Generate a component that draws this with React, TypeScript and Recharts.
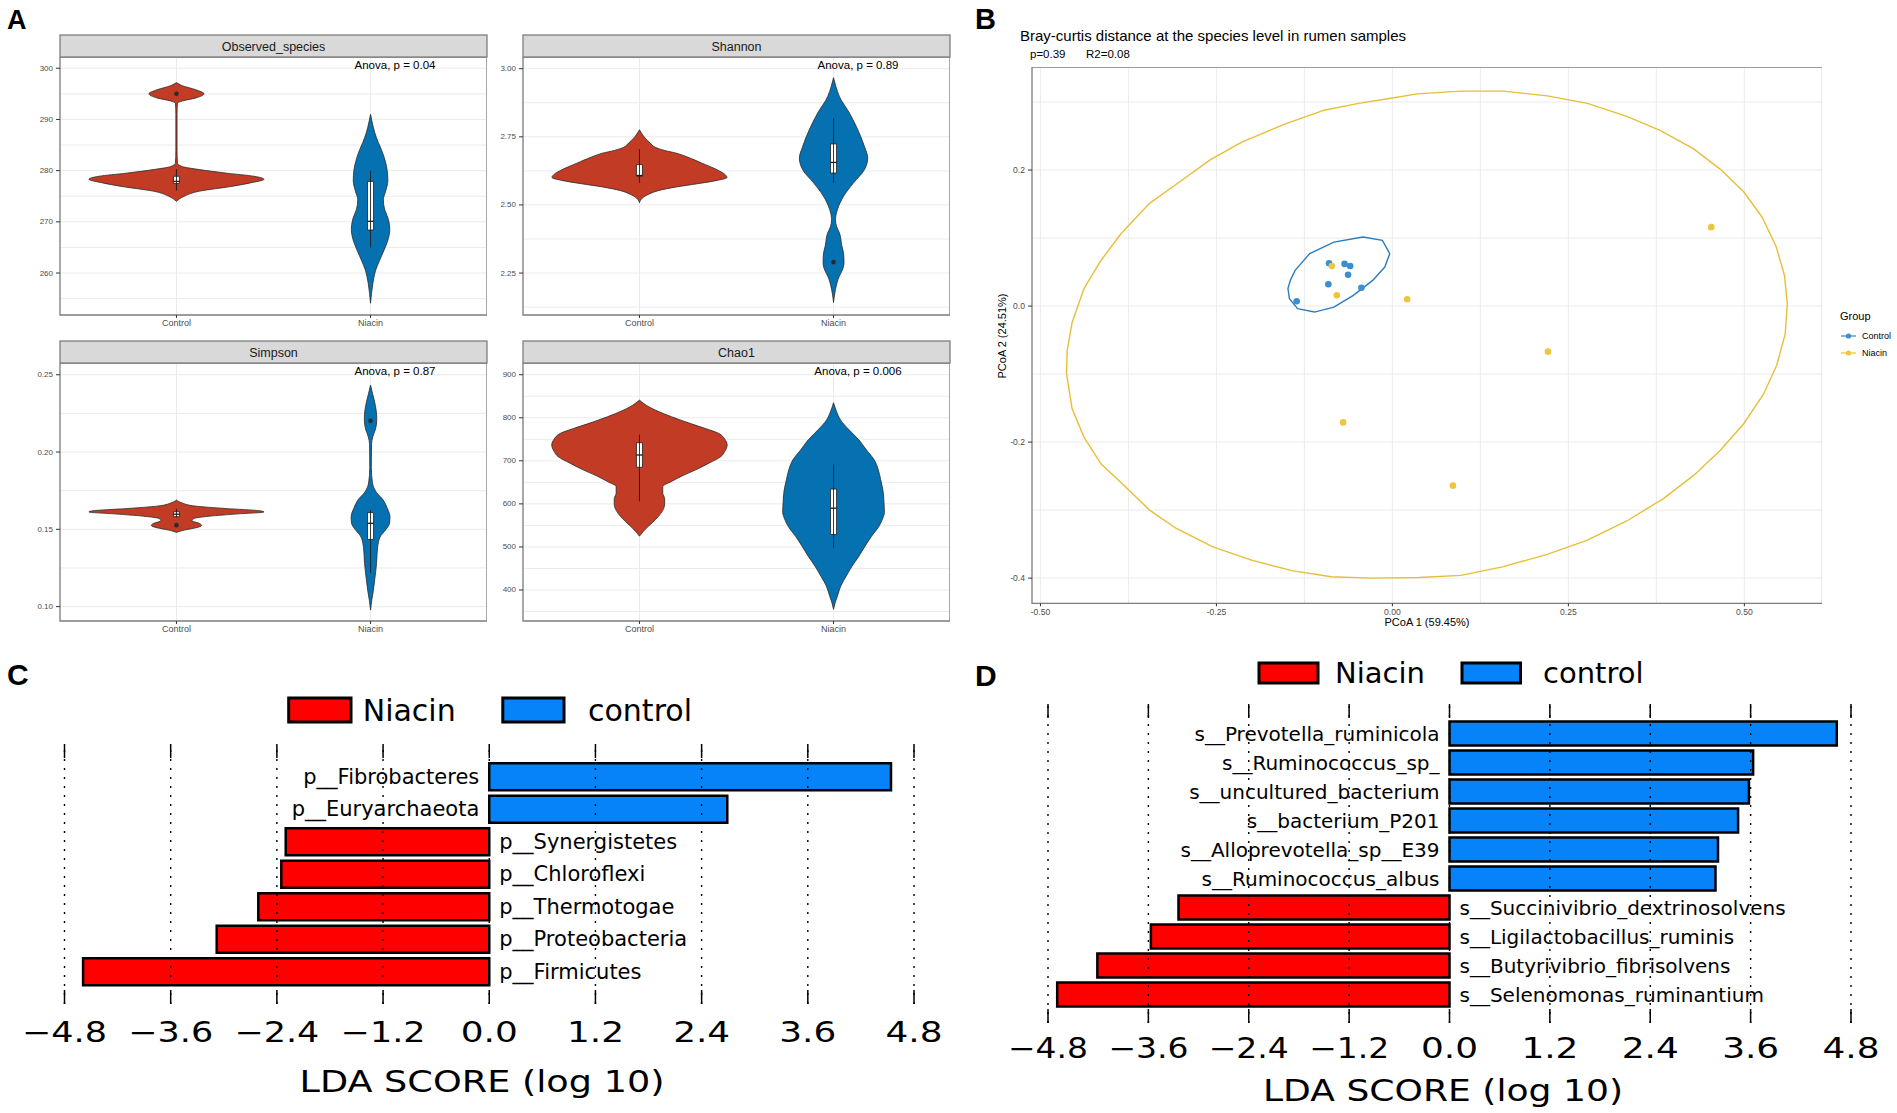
import React from 'react';
import {
  ComposedChart, BarChart, Area, Line, Bar, Cell, Scatter, XAxis, YAxis,
  CartesianGrid, ReferenceLine, ReferenceArea, LabelList,
} from 'recharts';

const FONT = '"Liberation Sans", Arial, Helvetica, sans-serif';
const DJ = '"DejaVu Sans", sans-serif';

type Pt = [number, number];

const groups = ['Control', 'Niacin'];
const CONTROL_FILL = '#C13B25';
const NIACIN_FILL = '#0571B0';

// ---------------- Panel A : violin outlines [value, half width] ----------------
const observedControlOutline: Pt[] = [
  [297.2, 0], [296.6, 0.03], [295.8, 0.1], [295.0, 0.142], [294.2, 0.1], [293.6, 0.03], [293.2, 0.005],
  [291, 0.003], [284, 0.003], [281.5, 0.005], [280.8, 0.03], [280.2, 0.12], [279.5, 0.26], [278.9, 0.4],
  [278.3, 0.451], [277.6, 0.38], [276.9, 0.28], [276.0, 0.12], [275.0, 0.04], [274.0, 0],
];
const observedNiacinOutline: Pt[] = [
  [291.0, 0], [289.5, 0.008], [287.4, 0.022], [285.5, 0.04], [284.1, 0.056], [282, 0.075], [280, 0.086],
  [278, 0.089], [276, 0.078], [274.3, 0.066], [272.5, 0.072], [270.5, 0.092], [268.5, 0.099], [266.5, 0.09],
  [264.5, 0.07], [262.5, 0.047], [260.5, 0.026], [258, 0.012], [256, 0.005], [254.1, 0],
];
const observedControlBox = [276.1, 277.5, 277.9, 278.9, 280.3];
const observedNiacinBox = [265.0, 268.4, 270.1, 277.9, 280.0];
const observedControlOutliers = [295];
const observedNiacinOutliers: number[] = [];
const observedTicks = [260, 270, 280, 290, 300];
const observedMinor = [255, 265, 275, 285, 295];

const shannonControlOutline: Pt[] = [
  [2.776, 0], [2.745, 0.03], [2.727, 0.056], [2.712, 0.08], [2.7, 0.13], [2.69, 0.19], [2.675, 0.25],
  [2.654, 0.32], [2.629, 0.4], [2.612, 0.44], [2.601, 0.451], [2.59, 0.4], [2.578, 0.3], [2.566, 0.19],
  [2.553, 0.1], [2.54, 0.05], [2.525, 0.015], [2.508, 0],
];
const shannonNiacinOutline: Pt[] = [
  [2.967, 0], [2.935, 0.012], [2.898, 0.03], [2.837, 0.082], [2.776, 0.125], [2.715, 0.159], [2.672, 0.176],
  [2.629, 0.159], [2.581, 0.103], [2.532, 0.052], [2.483, 0.02], [2.446, 0.01], [2.42, 0.016], [2.398, 0.03],
  [2.349, 0.043], [2.32, 0.052], [2.288, 0.054], [2.26, 0.045], [2.239, 0.03], [2.19, 0.01], [2.142, 0],
];
const shannonControlBox = [2.581, 2.605, 2.608, 2.648, 2.705];
const shannonNiacinBox = [2.581, 2.617, 2.656, 2.724, 2.818];
const shannonControlOutliers: number[] = [];
const shannonNiacinOutliers = [2.29];
const shannonTicks = [2.25, 2.5, 2.75, 3.0];
const shannonMinor = [2.125, 2.375, 2.625, 2.875];

const simpsonControlOutline: Pt[] = [
  [0.169, 0], [0.167, 0.03], [0.165, 0.1], [0.1635, 0.25], [0.162, 0.43], [0.1612, 0.451], [0.16, 0.32],
  [0.1585, 0.17], [0.157, 0.09], [0.1555, 0.08], [0.154, 0.115], [0.1525, 0.13], [0.151, 0.1],
  [0.1495, 0.04], [0.148, 0],
];
const simpsonNiacinOutline: Pt[] = [
  [0.2433, 0], [0.238, 0.01], [0.233, 0.02], [0.227, 0.029], [0.221, 0.032], [0.215, 0.026], [0.21, 0.012],
  [0.205, 0.005], [0.19, 0.004], [0.18, 0.01], [0.174, 0.03], [0.169, 0.065], [0.164, 0.085], [0.158, 0.1],
  [0.154, 0.098], [0.15, 0.08], [0.145, 0.049], [0.138, 0.036], [0.128, 0.031], [0.118, 0.022],
  [0.11, 0.014], [0.104, 0.006], [0.0978, 0],
];
const simpsonControlBox = [0.1578, 0.1582, 0.1598, 0.1614, 0.1632];
const simpsonNiacinBox = [0.1217, 0.1435, 0.1539, 0.1608, 0.1625];
const simpsonControlOutliers = [0.1527];
const simpsonNiacinOutliers = [0.2202];
const simpsonTicks = [0.1, 0.15, 0.2, 0.25];
const simpsonMinor = [0.125, 0.175, 0.225];

const chaoControlOutline: Pt[] = [
  [841, 0], [825, 0.05], [810, 0.122], [795, 0.21], [787, 0.26], [775, 0.34], [764, 0.407], [750, 0.44],
  [737, 0.452], [722, 0.44], [710, 0.42], [695, 0.36], [679, 0.29], [665, 0.22], [652, 0.165], [640, 0.12],
  [625, 0.12], [612, 0.13], [600, 0.13], [585, 0.12], [571, 0.098], [558, 0.07], [548, 0.046], [535, 0.018],
  [525, 0],
];
const chaoNiacinOutline: Pt[] = [
  [835, 0], [815, 0.015], [795, 0.036], [772, 0.08], [749, 0.13], [725, 0.17], [702, 0.21], [680, 0.23],
  [656, 0.243], [630, 0.255], [602, 0.26], [580, 0.262], [567, 0.254], [545, 0.23], [525, 0.196], [500, 0.16],
  [478, 0.13], [455, 0.095], [432, 0.065], [410, 0.038], [386, 0.02], [370, 0.008], [355, 0],
];
const chaoControlBox = [606, 685, 713.5, 742, 761];
const chaoNiacinBox = [498, 529, 590, 634.5, 692];
const chaoControlOutliers: number[] = [];
const chaoNiacinOutliers: number[] = [];
const chaoTicks = [400, 500, 600, 700, 800, 900];
const chaoMinor = [350, 450, 550, 650, 750, 850];

// ---------------- Panel B : PCoA ----------------
const controlPoints: Pt[] = [
  [-0.136, 0.007], [-0.091, 0.032], [-0.09, 0.063], [-0.068, 0.062], [-0.06, 0.059], [-0.063, 0.046], [-0.044, 0.027],
];
const niacinPoints: Pt[] = [
  [-0.086, 0.059], [-0.079, 0.016], [0.021, 0.01], [0.221, -0.067], [-0.07, -0.171], [0.086, -0.264], [0.453, 0.116],
];
const niacinEllipse: Pt[] = [
  [0.097, 0.316], [0.158, 0.316], [0.22, 0.309], [0.277, 0.298], [0.333, 0.279], [0.381, 0.258], [0.428, 0.231],
  [0.466, 0.201], [0.499, 0.168], [0.525, 0.131], [0.545, 0.088], [0.557, 0.045], [0.561, 0.003], [0.558, -0.041],
  [0.546, -0.087], [0.527, -0.13], [0.499, -0.173], [0.466, -0.212], [0.428, -0.249], [0.385, -0.283],
  [0.333, -0.316], [0.277, -0.344], [0.22, -0.365], [0.158, -0.383], [0.097, -0.396], [0.038, -0.399],
  [-0.028, -0.4], [-0.087, -0.398], [-0.143, -0.389], [-0.199, -0.374], [-0.255, -0.354], [-0.307, -0.327],
  [-0.345, -0.3], [-0.379, -0.266], [-0.414, -0.232], [-0.438, -0.193], [-0.455, -0.151], [-0.463, -0.099],
  [-0.462, -0.065], [-0.455, -0.024], [-0.438, 0.026], [-0.414, 0.067], [-0.386, 0.106], [-0.345, 0.151],
  [-0.303, 0.182], [-0.259, 0.215], [-0.214, 0.241], [-0.152, 0.268], [-0.097, 0.288], [-0.048, 0.298],
  [0.0, 0.306], [0.035, 0.312], [0.097, 0.316],
];
const controlEllipse: Pt[] = [
  [-0.0418, 0.1015], [-0.0142, 0.0966], [-0.0038, 0.0771], [-0.0108, 0.0574], [-0.028, 0.0378], [-0.0555, 0.0157],
  [-0.0831, -0.0015], [-0.1107, -0.0088], [-0.1347, -0.0038], [-0.1463, 0.0109], [-0.1484, 0.0256], [-0.145, 0.0378],
  [-0.1382, 0.0525], [-0.1175, 0.0771], [-0.0831, 0.0941], [-0.0418, 0.1015],
];
const pcoaTicksX = [-0.5, -0.25, 0, 0.25, 0.5];
const pcoaMinorX = [-0.375, -0.125, 0.125, 0.375];
const pcoaTicksY = [-0.4, -0.2, 0, 0.2];
const pcoaMinorY = [-0.3, -0.1, 0.1, 0.3];
const PCOA_BLUE = '#3B8ED0';
const PCOA_YELLOW = '#EEC63E';

// ---------------- Panels C, D : LEfSe ----------------
const cNames = ['p__Fibrobacteres', 'p__Euryarchaeota', 'p__Synergistetes', 'p__Chloroflexi', 'p__Thermotogae', 'p__Proteobacteria', 'p__Firmicutes'];
const cScores = [4.54, 2.69, -2.3, -2.35, -2.61, -3.08, -4.59];
const dNames = [
  's__Prevotella_ruminicola', 's__Ruminococcus_sp_', 's__uncultured_bacterium', 's__bacterium_P201',
  's__Alloprevotella_sp__E39', 's__Ruminococcus_albus', 's__Succinivibrio_dextrinosolvens',
  's__Ligilactobacillus_ruminis', 's__Butyrivibrio_fibrisolvens', 's__Selenomonas_ruminantium',
];
const dScores = [4.63, 3.63, 3.58, 3.45, 3.21, 3.18, -3.24, -3.57, -4.21, -4.69];
const ldaTicks = [-4.8, -3.6, -2.4, -1.2, 0, 1.2, 2.4, 3.6, 4.8];
const RED = '#FF0000';
const BLUE = '#0683F9';

// ---------------- helpers ----------------
const isMajor = (majors: number[], v: number) => majors.some((m) => Math.abs(m - v) < 1e-9);
const sortNum = (a: number[]) => [...a].sort((x, y) => x - y);

function violinElements(key: string, c: number, outline: Pt[], box: number[], outliers: number[], fill: string) {
  const bw = 0.0155;
  const [lo, q1, med, q3, hi] = box;
  const shape = outline.map(([y, hw]) => ({ y, r: [c - hw, c + hw] }));
  const els: any[] = [
    <Area key={key + 'v'} data={shape} dataKey="r" type="monotone" fill={fill} fillOpacity={1}
      stroke="#2a2a2a" strokeWidth={0.8} dot={false} activeDot={false} isAnimationActive={false} />,
    <Line key={key + 'w'} data={[{ y: hi, v: c }, { y: lo, v: c }]} dataKey="v" type="linear"
      stroke="#1e1e1e" strokeWidth={0.9} dot={false} activeDot={false} isAnimationActive={false} />,
    <Area key={key + 'bf'} data={[{ y: q3, r: [c - bw, c + bw] }, { y: q1, r: [c - bw, c + bw] }]} dataKey="r"
      type="linear" fill="#ffffff" fillOpacity={1} stroke="none" dot={false} activeDot={false} isAnimationActive={false} />,
    <Line key={key + 'bo'} data={[{ y: q3, v: c - bw }, { y: q3, v: c + bw }, { y: q1, v: c + bw }, { y: q1, v: c - bw }, { y: q3, v: c - bw }]}
      dataKey="v" type="linear" stroke="#1e1e1e" strokeWidth={0.8} dot={false} activeDot={false} isAnimationActive={false} />,
    <Line key={key + 'md'} data={[{ y: med, v: c - bw }, { y: med, v: c + bw }]} dataKey="v" type="linear"
      stroke="#1e1e1e" strokeWidth={1.3} dot={false} activeDot={false} isAnimationActive={false} />,
  ];
  outliers.forEach((o, i) =>
    els.push(
      <Line key={key + 'o' + i} data={[{ y: o, v: c }]} dataKey="v" stroke="none"
        dot={{ r: 2.3, fill: '#2b2b2b', stroke: 'none' }} activeDot={false} isAnimationActive={false} />,
    ),
  );
  return els;
}

// left-axis tick: label + tick mark only for major values (minor values only feed the grid)
const makeLeftTick = (majors: number[], fmt: (v: number) => string, fontSize: number) => (p: any) => {
  const v = p.payload.value;
  if (!isMajor(majors, v)) return <g />;
  return (
    <g>
      <line x1={p.x + 3} x2={p.x + 7} y1={p.y} y2={p.y} stroke="#333" strokeWidth={1} />
      <text x={p.x} y={p.y} textAnchor="end" dominantBaseline="central" fontSize={fontSize} fill="#4d4d4d"
        fontFamily={FONT}>{fmt(v)}</text>
    </g>
  );
};
const makeBottomTick = (majors: number[], fmt: (v: number) => string, fontSize: number) => (p: any) => {
  const v = p.payload.value;
  if (!isMajor(majors, v)) return <g />;
  return (
    <g>
      <line x1={p.x} x2={p.x} y1={p.y - 5} y2={p.y - 2} stroke="#333" strokeWidth={1} />
      <text x={p.x} y={p.y} dy="0.75em" textAnchor="middle" fontSize={fontSize} fill="#4d4d4d"
        fontFamily={FONT}>{fmt(v)}</text>
    </g>
  );
};

function ViolinChart(props: {
  left: number; top: number; domain: [number, number]; ticks: number[]; minor: number[];
  fmt: (v: number) => string; series: any[];
}) {
  const { left, top, domain, ticks, minor, fmt, series } = props;
  const W = 427, H = 258, AW = 60, AH = 30;
  return (
    <div style={{ position: 'absolute', left: left - AW, top }}>
      <ComposedChart layout="vertical" width={W + AW} height={H + AH} margin={{ top: 0, right: 0, bottom: 0, left: 0 }}>
        <CartesianGrid stroke="#ebebeb" strokeWidth={1} />
        <XAxis type="number" dataKey="x" domain={[0.4, 2.6]} ticks={[1, 2]} interval={0} allowDataOverflow
          tickFormatter={(v: number) => groups[Math.round(v) - 1]} axisLine={false} tickSize={3} tickMargin={2}
          tickLine={{ stroke: '#333' }} tick={{ fontSize: 9, fill: '#4d4d4d', fontFamily: FONT }} height={AH} />
        <YAxis type="number" dataKey="y" reversed domain={domain} ticks={sortNum([...ticks, ...minor])} interval={0}
          allowDataOverflow axisLine={false} tickSize={4} tickMargin={3} tickLine={false}
          tick={makeLeftTick(ticks, fmt, 8)} width={AW} />
        {series}
        <ReferenceArea x1={0.4} x2={2.6} y1={domain[0]} y2={domain[1]} fill="none" stroke="#7f7f7f"
          strokeWidth={1.3} ifOverflow="visible" />
      </ComposedChart>
    </div>
  );
}

const dotShape = (color: string) => (p: any) => <circle cx={p.cx} cy={p.cy} r={3.3} fill={color} />;

function makeBarLabel(rows: { name: string; v: number }[], fontSize: number) {
  return (p: any) => {
    const vb = p.viewBox || p;
    const x = vb.x, y = vb.y, w = vb.width, h = vb.height;
    const row = rows[p.index] || rows.find((r) => r.name === p.value);
    if (!row || x == null) return null;
    const neg = row.v < 0;
    const zeroX = neg ? Math.max(x, x + w) : Math.min(x, x + w);
    return (
      <text x={neg ? zeroX + 10 : zeroX - 10} y={y + h / 2} textAnchor={neg ? 'start' : 'end'}
        dominantBaseline="central" fontSize={fontSize} fontFamily={DJ} fill="#000">{row.name}</text>
    );
  };
}

const fmtLda = (v: number) => v.toFixed(1).replace('-', '\u2212');

function LdaChart(props: {
  left: number; top: number; width: number; mLeft: number; mRight: number; mTop: number; plotH: number;
  names: string[]; scores: number[]; band: number; barSize: number; labelSize: number;
  negLen: number; posLen: number; dy: number;
}) {
  const { left, top, width, mLeft, mRight, mTop, plotH, names, scores, band, barSize, labelSize, negLen, posLen, dy } = props;
  const rows = names.map((n, i) => ({ name: n, v: scores[i] }));
  const TopTick = (p: any) => (
    <line x1={p.x} x2={p.x} y1={p.y} y2={p.y + 14} stroke="#000" strokeWidth={1.5} />
  );
  const BottomTick = (p: any) => {
    const v = p.payload.value;
    return (
      <g>
        <line x1={p.x} x2={p.x} y1={p.y - 14} y2={p.y} stroke="#000" strokeWidth={1.5} />
        <text x={p.x} y={p.y + dy} textAnchor="middle" dominantBaseline="central" fontSize={27.5} fontFamily={DJ}
          fill="#000" textLength={v < 0 ? negLen : posLen} lengthAdjust="spacingAndGlyphs">{fmtLda(v)}</text>
      </g>
    );
  };
  return (
    <div style={{ position: 'absolute', left, top }}>
      <BarChart layout="vertical" data={rows} width={width} height={mTop + 1 + plotH + 55}
        margin={{ top: mTop, right: mRight, bottom: 0, left: mLeft }}>
        <XAxis xAxisId="top" orientation="top" type="number" domain={[-4.8, 4.8]} ticks={ldaTicks} interval={0}
          allowDataOverflow height={1} axisLine={false} tickLine={false} tickSize={0} tickMargin={0} tick={TopTick} />
        <XAxis type="number" domain={[-4.8, 4.8]} ticks={ldaTicks} interval={0} allowDataOverflow height={55}
          axisLine={false} tickLine={false} tickSize={0} tickMargin={0} tick={BottomTick} />
        <YAxis type="category" dataKey="name" hide padding={{ top: band / 2, bottom: band / 2 }} />
        {ldaTicks.map((t) => (
          <ReferenceLine key={'g' + t} x={t} stroke="#000" strokeWidth={1.4} strokeDasharray="2 7" />
        ))}
        <Bar dataKey="v" barSize={barSize} stroke="#000" strokeWidth={2.5} isAnimationActive={false}>
          {rows.map((r, i) => <Cell key={'c' + i} fill={r.v < 0 ? RED : BLUE} />)}
          <LabelList dataKey="name" content={makeBarLabel(rows, labelSize)} />
        </Bar>
      </BarChart>
    </div>
  );
}

const int0 = (v: number) => String(Math.round(v));
const fix2 = (v: number) => v.toFixed(2);
const fix1 = (v: number) => v.toFixed(1);

export default function App() {
  const strip = (x: number, y: number, title: string) => (
    <g key={title}>
      <rect x={x} y={y} width={427} height={22} fill="#d9d9d9" stroke="#7f7f7f" strokeWidth={1.3} />
      <text x={x + 213.5} y={y + 11.5} textAnchor="middle" dominantBaseline="central" fontSize={12.5} fill="#1a1a1a"
        fontFamily={FONT}>{title}</text>
    </g>
  );
  const anova = (x: number, y: number, t: string) => (
    <text key={t + x + y} x={x} y={y} textAnchor="middle" dominantBaseline="central" fontSize={11.5} fill="#000"
      fontFamily={FONT}>{t}</text>
  );

  return (
    <div style={{ position: 'absolute', left: 0, top: 0, width: 1897, height: 1113, background: '#fff', fontFamily: FONT, overflow: 'hidden' }}>
      {/* Panel A */}
      <ViolinChart left={60} top={57} domain={[251.8, 302.2]} ticks={observedTicks} minor={observedMinor} fmt={int0}
        series={[
          ...violinElements('oc', 1, observedControlOutline, observedControlBox, observedControlOutliers, CONTROL_FILL),
          ...violinElements('on', 2, observedNiacinOutline, observedNiacinBox, observedNiacinOutliers, NIACIN_FILL),
        ]} />
      <ViolinChart left={523} top={57} domain={[2.096, 3.043]} ticks={shannonTicks} minor={shannonMinor} fmt={fix2}
        series={[
          ...violinElements('sc', 1, shannonControlOutline, shannonControlBox, shannonControlOutliers, CONTROL_FILL),
          ...violinElements('sn', 2, shannonNiacinOutline, shannonNiacinBox, shannonNiacinOutliers, NIACIN_FILL),
        ]} />
      <ViolinChart left={60} top={363} domain={[0.0907, 0.2576]} ticks={simpsonTicks} minor={simpsonMinor} fmt={fix2}
        series={[
          ...violinElements('pc', 1, simpsonControlOutline, simpsonControlBox, simpsonControlOutliers, CONTROL_FILL),
          ...violinElements('pn', 2, simpsonNiacinOutline, simpsonNiacinBox, simpsonNiacinOutliers, NIACIN_FILL),
        ]} />
      <ViolinChart left={523} top={363} domain={[328, 927.2]} ticks={chaoTicks} minor={chaoMinor} fmt={int0}
        series={[
          ...violinElements('cc', 1, chaoControlOutline, chaoControlBox, chaoControlOutliers, CONTROL_FILL),
          ...violinElements('cn', 2, chaoNiacinOutline, chaoNiacinBox, chaoNiacinOutliers, NIACIN_FILL),
        ]} />

      {/* Panel B */}
      <div style={{ position: 'absolute', left: 1031.5 - 40, top: 66.7 }}>
        <ComposedChart width={790.5 + 40} height={536.3 + 30} margin={{ top: 0, right: 0, bottom: 0, left: 0 }}>
          <CartesianGrid stroke="#ebebeb" strokeWidth={1} />
          <XAxis type="number" dataKey="x" domain={[-0.512, 0.611]} ticks={sortNum([...pcoaTicksX, ...pcoaMinorX])}
            interval={0} allowDataOverflow axisLine={false} tickSize={3} tickMargin={2} tickLine={false}
            tick={makeBottomTick(pcoaTicksX, fix2, 8.6)} height={30} />
          <YAxis type="number" dataKey="y" domain={[-0.437, 0.3515]} ticks={sortNum([...pcoaTicksY, ...pcoaMinorY])}
            interval={0} allowDataOverflow axisLine={false} tickSize={4} tickMargin={3} tickLine={false}
            tick={makeLeftTick(pcoaTicksY, fix1, 8.6)} width={40} />
          <Line data={niacinEllipse.map(([x, y]) => ({ x, y }))} dataKey="y" type="linear" stroke="#E6BF38"
            strokeWidth={1.4} dot={false} activeDot={false} isAnimationActive={false} />
          <Line data={controlEllipse.map(([x, y]) => ({ x, y }))} dataKey="y" type="linear" stroke="#2C7DBE"
            strokeWidth={1.4} dot={false} activeDot={false} isAnimationActive={false} />
          <Scatter data={controlPoints.map(([x, y]) => ({ x, y }))} shape={dotShape(PCOA_BLUE)} isAnimationActive={false} />
          <Scatter data={niacinPoints.map(([x, y]) => ({ x, y }))} shape={dotShape(PCOA_YELLOW)} isAnimationActive={false} />
          <ReferenceArea x1={-0.512} x2={0.611} y1={-0.437} y2={0.3515} fill="none" stroke="#7f7f7f" strokeWidth={1.3}
            ifOverflow="visible" />
        </ComposedChart>
      </div>

      {/* Panel C */}
      <LdaChart left={0} top={690} width={960} mLeft={64.5} mRight={46} mTop={53} plotH={260} names={cNames}
        scores={cScores} band={32.5} barSize={27} labelSize={21} negLen={85} posLen={57} dy={27.7} />
      {/* Panel D */}
      <LdaChart left={960} top={660} width={937} mLeft={88} mRight={46} mTop={43} plotH={319} names={dNames}
        scores={dScores} band={29} barSize={24} labelSize={20} negLen={80} posLen={57} dy={25} />

      {/* overlay texts */}
      <svg width={1897} height={1113} style={{ position: 'absolute', left: 0, top: 0, pointerEvents: 'none' }}>
        <text x={7} y={29} fontSize={27} fontWeight="bold" fontFamily={FONT}>A</text>
        <text x={975} y={29} fontSize={29} fontWeight="bold" fontFamily={FONT}>B</text>
        <text x={7} y={685} fontSize={30} fontWeight="bold" fontFamily={FONT}>C</text>
        <text x={975} y={686} fontSize={30} fontWeight="bold" fontFamily={FONT}>D</text>

        {strip(60, 35, 'Observed_species')}
        {strip(523, 35, 'Shannon')}
        {strip(60, 341, 'Simpson')}
        {strip(523, 341, 'Chao1')}
        {anova(395, 65, 'Anova, p = 0.04')}
        {anova(858, 65, 'Anova, p = 0.89')}
        {anova(395, 371, 'Anova, p = 0.87')}
        {anova(858, 371, 'Anova, p = 0.006')}

        <text x={1020} y={35} dominantBaseline="central" fontSize={15} fontFamily={FONT} fill="#000">
          Bray-curtis distance at the species level in rumen samples
        </text>
        <text x={1030} y={54} dominantBaseline="central" fontSize={11.5} fontFamily={FONT} fill="#000">p=0.39</text>
        <text x={1086} y={54} dominantBaseline="central" fontSize={11.5} fontFamily={FONT} fill="#000">R2=0.08</text>
        <text x={1427} y={622} textAnchor="middle" dominantBaseline="central" fontSize={11} fontFamily={FONT} fill="#000">
          PCoA 1 (59.45%)
        </text>
        <text x={1002} y={336} textAnchor="middle" dominantBaseline="central" fontSize={11} fontFamily={FONT} fill="#000"
          transform="rotate(-90 1002 336)">PCoA 2 (24.51%)</text>
        <text x={1840} y={316} dominantBaseline="central" fontSize={11} fontFamily={FONT} fill="#000">Group</text>
        <line x1={1841} x2={1856} y1={336} y2={336} stroke={PCOA_BLUE} strokeWidth={1.3} />
        <circle cx={1848.5} cy={336} r={2.6} fill={PCOA_BLUE} />
        <text x={1862} y={336} dominantBaseline="central" fontSize={9} fontFamily={FONT} fill="#000">Control</text>
        <line x1={1841} x2={1856} y1={353} y2={353} stroke={PCOA_YELLOW} strokeWidth={1.3} />
        <circle cx={1848.5} cy={353} r={2.6} fill={PCOA_YELLOW} />
        <text x={1862} y={353} dominantBaseline="central" fontSize={9} fontFamily={FONT} fill="#000">Niacin</text>

        <rect x={288.7} y={698} width={62.3} height={24} fill={RED} stroke="#000" strokeWidth={3} />
        <text x={362.7} y={710} dominantBaseline="central" fontSize={30} fontFamily={DJ} fill="#000">Niacin</text>
        <rect x={502.8} y={698} width={61.2} height={24} fill={BLUE} stroke="#000" strokeWidth={3} />
        <text x={588} y={710} dominantBaseline="central" fontSize={30} fontFamily={DJ} fill="#000">control</text>
        <text x={482} y={1081.7} textAnchor="middle" dominantBaseline="central" fontSize={30} fontFamily={DJ} fill="#000"
          textLength={365} lengthAdjust="spacingAndGlyphs">LDA SCORE (log 10)</text>

        <rect x={1259} y={663} width={59} height={20} fill={RED} stroke="#000" strokeWidth={3} />
        <text x={1335} y={673} dominantBaseline="central" fontSize={29} fontFamily={DJ} fill="#000">Niacin</text>
        <rect x={1462} y={663} width={58.5} height={20} fill={BLUE} stroke="#000" strokeWidth={3} />
        <text x={1543} y={673} dominantBaseline="central" fontSize={29} fontFamily={DJ} fill="#000">control</text>
        <text x={1443} y={1090.7} textAnchor="middle" dominantBaseline="central" fontSize={30} fontFamily={DJ} fill="#000"
          textLength={360} lengthAdjust="spacingAndGlyphs">LDA SCORE (log 10)</text>
      </svg>
    </div>
  );
}
